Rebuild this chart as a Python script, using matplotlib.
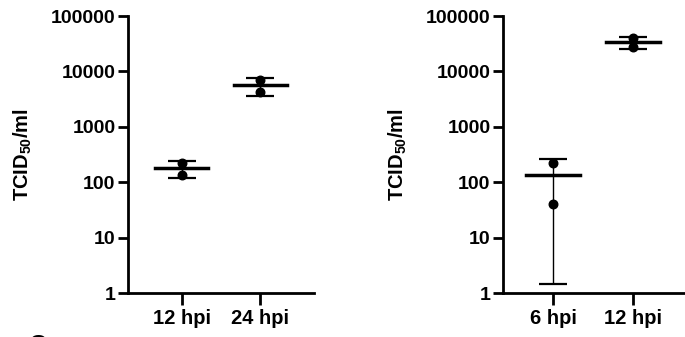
import numpy as np
import matplotlib.pyplot as plt

# TCID50/ml titres, two replicates per time point
left_labels = ["12 hpi", "24 hpi"]
left_values = [[220, 135], [7000, 4200]]

right_labels = ["6 hpi", "12 hpi"]
right_values = [[226, 40], [40000, 28000]]

yticks = [1, 10, 100, 1000, 10000, 100000]
ytick_labels = ["1", "10", "100", "1000", "10000", "100000"]

plt.rcParams['font.family'] = ['Liberation Sans', 'DejaVu Sans']
plt.rcParams['font.weight'] = 'bold'
plt.rcParams['mathtext.fontset'] = 'custom'
plt.rcParams['mathtext.rm'] = 'Liberation Sans:bold'
plt.rcParams['mathtext.bf'] = 'Liberation Sans:bold'

fig = plt.figure(figsize=(6.85, 3.37), dpi=100)
ax1 = fig.add_axes([128 / 685, 1 - 293 / 337, 186 / 685, 277 / 337])
ax2 = fig.add_axes([503 / 685, 1 - 293 / 337, 186 / 685, 277 / 337])


def draw(ax, labels, values, xlim):
    x = np.arange(len(labels))
    for i, vals in enumerate(values):
        vals = np.array(vals, dtype=float)
        m = vals.mean()
        sd = vals.std(ddof=1)
        ax.errorbar(i, m, yerr=[[sd], [sd]], fmt='none', ecolor='black',
                    elinewidth=1.0, capsize=10, capthick=1.6, zorder=2)
        ax.plot([i - 0.34, i + 0.34], [m, m], color='black', lw=2.5, zorder=3)
        ax.scatter([i] * len(vals), vals, s=38, color='black', zorder=4)
    ax.set_yscale('log')
    ax.set_ylim(1, 100000)
    ax.set_yticks(yticks)
    ax.set_yticklabels(ytick_labels)
    ax.yaxis.set_minor_locator(plt.NullLocator())
    ax.set_xticks(x)
    ax.set_xticklabels(labels)
    ax.set_xlim(*xlim)
    for s in ['top', 'right']:
        ax.spines[s].set_visible(False)
    for s in ['left', 'bottom']:
        ax.spines[s].set_linewidth(2.0)
    ax.tick_params(axis='y', width=2.0, length=7, labelsize=14, pad=2)
    ax.tick_params(axis='x', width=2.0, length=8.5, labelsize=14.5, pad=3)
    ax.set_ylabel("TCID$_{50}$/ml", fontsize=14.5, fontweight='bold', labelpad=12)


draw(ax1, left_labels, left_values, (-0.69, 1.69))
draw(ax2, right_labels, right_values, (-0.63, 1.7))

# cropped panel letter at the bottom edge
fig.text(38 / 685, 3 / 337, "C", fontsize=18, fontweight='bold', ha='center', va='top')

fig.savefig("out.png", dpi=100)
